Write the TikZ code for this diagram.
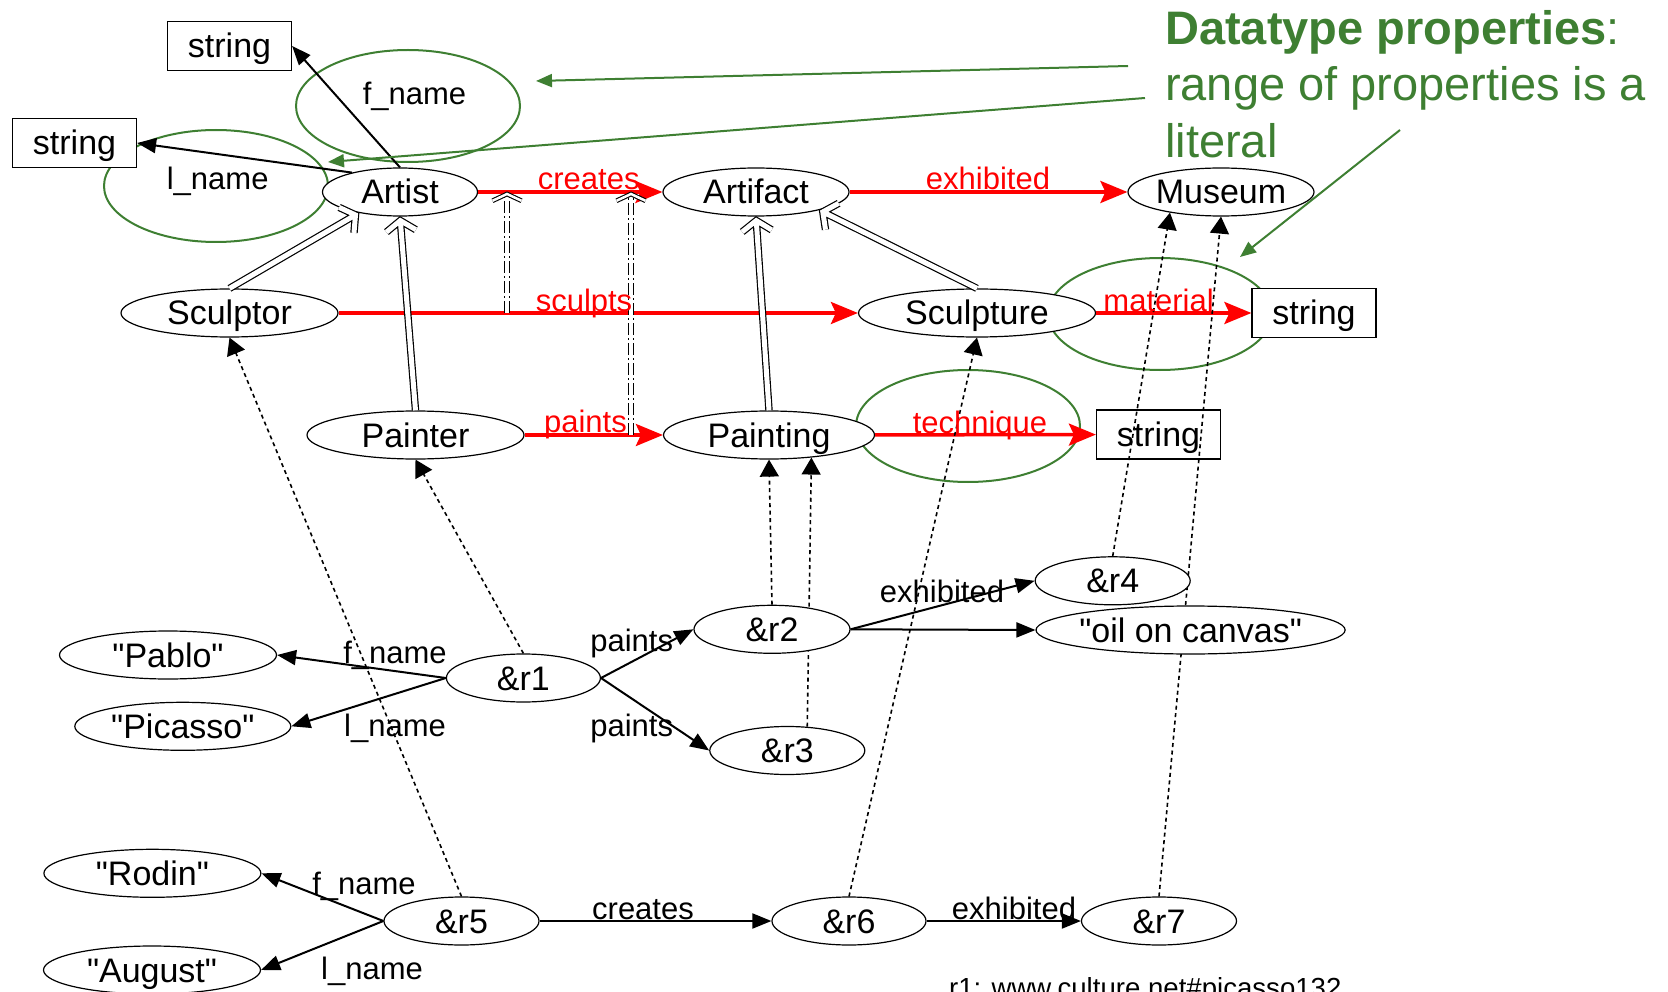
\documentclass[tikz,border=0pt]{standalone}
\usepackage{fontspec}
\setmainfont{Liberation Sans}[Ligatures=TeXOff]
\usetikzlibrary{shapes.geometric,arrows.meta,calc}
\definecolor{dtgreen}{RGB}{62,127,50}
\pgfdeclarelayer{ovals}
\pgfdeclarelayer{schema}
\pgfdeclarelayer{links}
\pgfsetlayers{ovals,schema,links,main}
\newcommand{\nodefont}{\fontsize{34pt}{40pt}\selectfont}
\newcommand{\edgefont}{\fontsize{31pt}{36pt}\selectfont}
\newcommand{\notefont}{\fontsize{47pt}{56pt}\selectfont}
% hollow subclass arrow: shaft and head in one double-stroked path
% #1 start, #2 end, #3 prefix for the helper coordinate
\newcommand{\isalink}[3]{%
  \coordinate (#3tip) at ($(#2)!4pt!(#1)$);
  \draw[isaline] let \p1 = ($(#1)-(#3tip)$), \n1 = {atan2(\y1,\x1)} in
    (#1) -- (#3tip)
    ($(#3tip)+(\n1+55:18pt)$) -- (#3tip) -- ($(#3tip)+(\n1-55:18pt)$);}
% dash-dotted subproperty arrow with an open double head
\newcommand{\subproplink}[3]{%
  \coordinate (#3tip) at ($(#2)!2pt!(#1)$);
  \draw[subpropline] (#1) -- (#3tip);
  \draw[subprophead] let \p1 = ($(#1)-(#3tip)$), \n1 = {atan2(\y1,\x1)} in
    ($(#3tip)+(\n1+65:16pt)$) -- (#3tip) -- ($(#3tip)+(\n1-65:16pt)$);}
\begin{document}
\begin{tikzpicture}[x=1pt,y=-1pt,
  oval/.style={ellipse, draw, line width=1.2pt, fill=white, inner sep=0pt,
    font=\nodefont, text height=24pt, text depth=0pt, minimum height=48pt},
  strbox/.style={rectangle, draw, line width=1.2pt, fill=white, inner sep=0pt,
    font=\nodefont, text height=24pt, text depth=0pt,
    minimum width=124pt, minimum height=49pt},
  goval/.style={ellipse, draw=dtgreen, line width=2pt, inner sep=0pt,
    minimum width=224pt, minimum height=112pt},
  lbl/.style={anchor=base, inner sep=0pt, font=\edgefont},
  plbl/.style={lbl, text=red},
  gtext/.style={anchor=base west, inner sep=0pt, font=\notefont, text=dtgreen},
  propline/.style={draw=red, line width=3.5pt,
    -{Stealth[length=27pt, width=22pt, inset=5pt]}},
  isaline/.style={draw=black, double=white, double distance=5pt, line width=1.2pt,
    line join=miter},
  subpropline/.style={draw=black, double=white, double distance=4pt, line width=1.1pt,
    dash pattern=on 12pt off 3pt on 2pt off 3pt},
  subprophead/.style={draw=black, double=white, double distance=2.5pt, line width=1.1pt,
    line join=miter},
  typeline/.style={draw=black, line width=1.6pt, dash pattern=on 4pt off 3.5pt,
    -{Triangle[length=17pt, width=19pt]}},
  relline/.style={draw=black, line width=2pt,
    -{Triangle[length=19pt, width=15pt]}},
  gline/.style={draw=dtgreen, line width=2pt,
    -{Triangle[length=16pt, width=13pt]}}
]
\useasboundingbox (0,0) rectangle (1668,992);

% green highlight ovals around the datatype properties
\begin{pgfonlayer}{ovals}
  \node[goval] (fnameOval) at (408,106) {};
  \node[goval] (lnameOval) at (216,186) {};
  \node[goval] (techOval) at (968,426) {};
  \node[goval] (matOval) at (1160,314) {};
\end{pgfonlayer}

% schema classes and literal ranges
\begin{pgfonlayer}{schema}
  \node[oval, minimum width=155pt] (artist) at (400,192) {Artist};
  \node[oval, minimum width=186pt] (artifact) at (756,192) {Artifact};
  \node[oval, minimum width=186pt] (museum) at (1221,192) {Museum};
  \node[oval, minimum width=217pt] (sculptor) at (229.5,313) {Sculptor};
  \node[oval, minimum width=237pt] (sculpture) at (977,313) {Sculpture};
  \node[oval, minimum width=217pt] (painter) at (415.5,435) {Painter};
  \node[oval, minimum width=211pt] (painting) at (769,435) {Painting};
  \node[strbox] (strF) at (229.5,46) {string};
  \node[strbox] (strL) at (74.5,143) {string};
  \node[strbox] (strM) at (1314,313) {string};
  \node[strbox] (strT) at (1158.5,434.5) {string};
\end{pgfonlayer}

% resources
\node[oval, minimum width=154pt] (r1) at (523.4,678) {\&r1};
\node[oval, minimum width=217pt] (pablo) at (168,655) {"Pablo"};
\node[oval, minimum width=216pt] (picasso) at (182.8,726.3) {"Picasso"};
\node[oval, minimum width=156pt] (r2) at (772,629.3) {\&r2};
\node[oval, minimum width=155pt] (r3) at (787.3,750.5) {\&r3};
\node[oval, minimum width=155pt] (r4) at (1112.7,580.8) {\&r4};
\node[oval, minimum width=309pt, inner xsep=-2pt] (oil) at (1190.6,630) {"oil on canvas"};
\node[oval, minimum width=217pt] (rodin) at (152.4,873.3) {"Rodin"};
\node[oval, minimum width=217pt] (august) at (152,970) {"August"};
\node[oval, minimum width=155pt] (r5) at (461.5,921) {\&r5};
\node[oval, minimum width=154pt] (r6) at (849,921) {\&r6};
\node[oval, minimum width=155pt] (r7) at (1159,921) {\&r7};

% labels of the green ovals
\node[lbl] (fnameTxt) at (414.5,105) {f\_name};
\node[lbl] (lnameTxt) at (217.7,189.5) {l\_name};

% note on datatype properties
\node[gtext] (noteA) at (1165,45) {\textbf{Datatype properties}:};
\node[gtext] (noteB) at (1165,100.5) {range of properties is a};
\node[gtext] (noteC) at (1165,158) {literal};
\node[anchor=base west, inner sep=0pt, font=\fontsize{27.6pt}{32pt}\selectfont]
  (refNote) at (949,997) {r1: www.culture.net\#picasso132};

% end points of the connectors that do not meet a node
\coordinate (sp1b) at (507,313);
\coordinate (sp1t) at (507,192);
\coordinate (sp2b) at (631,435);
\coordinate (sp2t) at (631,192);
\coordinate (g1s) at (1128,66);
\coordinate (g1e) at (536,81);
\coordinate (g2s) at (1145,98);
\coordinate (g2e) at (328,162);
\coordinate (g3s) at (1400,130);
\coordinate (g3e) at (1240,257);

\begin{pgfonlayer}{links}
  % object and datatype properties
  \draw[propline] (artist) -- (artifact);
  \draw[propline] (artifact) -- (museum);
  \draw[propline] (sculptor) -- (sculpture);
  \draw[propline] (sculpture) -- (strM);
  \draw[propline] (painter) -- (painting);
  \draw[propline] (painting) -- (strT);

  % subclass relations
  \isalink{sculptor.north}{artist.207}{isaA}
  \isalink{painter.north}{artist.south}{isaB}
  \isalink{painting.north}{artifact.south}{isaC}
  \isalink{sculpture.north}{artifact.-16}{isaD}

  % subproperty relations
  \subproplink{sp1b}{sp1t}{spA}
  \subproplink{sp2b}{sp2t}{spB}

  % rdf:type links
  \draw[typeline] (r1.north) -- (painter.south);
  \draw[typeline] (r5.north) -- (sculptor.south);
  \draw[typeline] (r2.north) -- (painting.south);
  \draw[typeline] (r3.50) -- (painting.-28);
  \draw[typeline] (r6.north) -- (sculpture.south);
  \draw[typeline] (r4.north) -- (museum.202);
  \draw[typeline] (r7.north) -- (museum.south);

  % name properties of Artist
  \draw[relline] (artist.north) -- (strF.east);
  \draw[relline] (artist.158) -- (strL.east);

  % instance statements
  \draw[relline] (r1.west) -- (pablo.east);
  \draw[relline] (r1.west) -- (picasso.east);
  \draw[relline] (r1.east) -- (r2.west);
  \draw[relline] (r1.east) -- (r3.west);
  \draw[relline] (r2.east) -- (r4.west);
  \draw[relline] (r2.east) -- (oil.west);
  \draw[relline] (r5.west) -- (rodin.east);
  \draw[relline] (r5.west) -- (august.east);
  \draw[relline] (r5) -- (r6);
  \draw[relline] (r6) -- (r7);

  % pointers from the note
  \draw[gline] (g1s) -- (g1e);
  \draw[gline] (g2s) -- (g2e);
  \draw[gline] (g3s) -- (g3e);
\end{pgfonlayer}

% property names
\node[plbl] (lcreates) at (588.7,190) {creates};
\node[plbl] (lexhib) at (988,189.5) {exhibited};
\node[plbl] (lsculpts) at (584,311.5) {sculpts};
\node[plbl] (lmaterial) at (1158.6,312) {material};
\node[plbl] (lpaints) at (585.5,432.5) {paints};
\node[plbl] (ltech) at (980,433.5) {technique};

\node[lbl] (i1) at (395,663) {f\_name};
\node[lbl] (i2) at (395,736.5) {l\_name};
\node[lbl] (i3) at (631.7,651) {paints};
\node[lbl] (i4) at (631.7,736.5) {paints};
\node[lbl] (i5) at (942,602) {exhibited};
\node[lbl] (i6) at (364,894.7) {f\_name};
\node[lbl] (i7) at (372,979.7) {l\_name};
\node[lbl] (i8) at (643,919) {creates};
\node[lbl] (i9) at (1014,919) {exhibited};
\end{tikzpicture}
\end{document}
